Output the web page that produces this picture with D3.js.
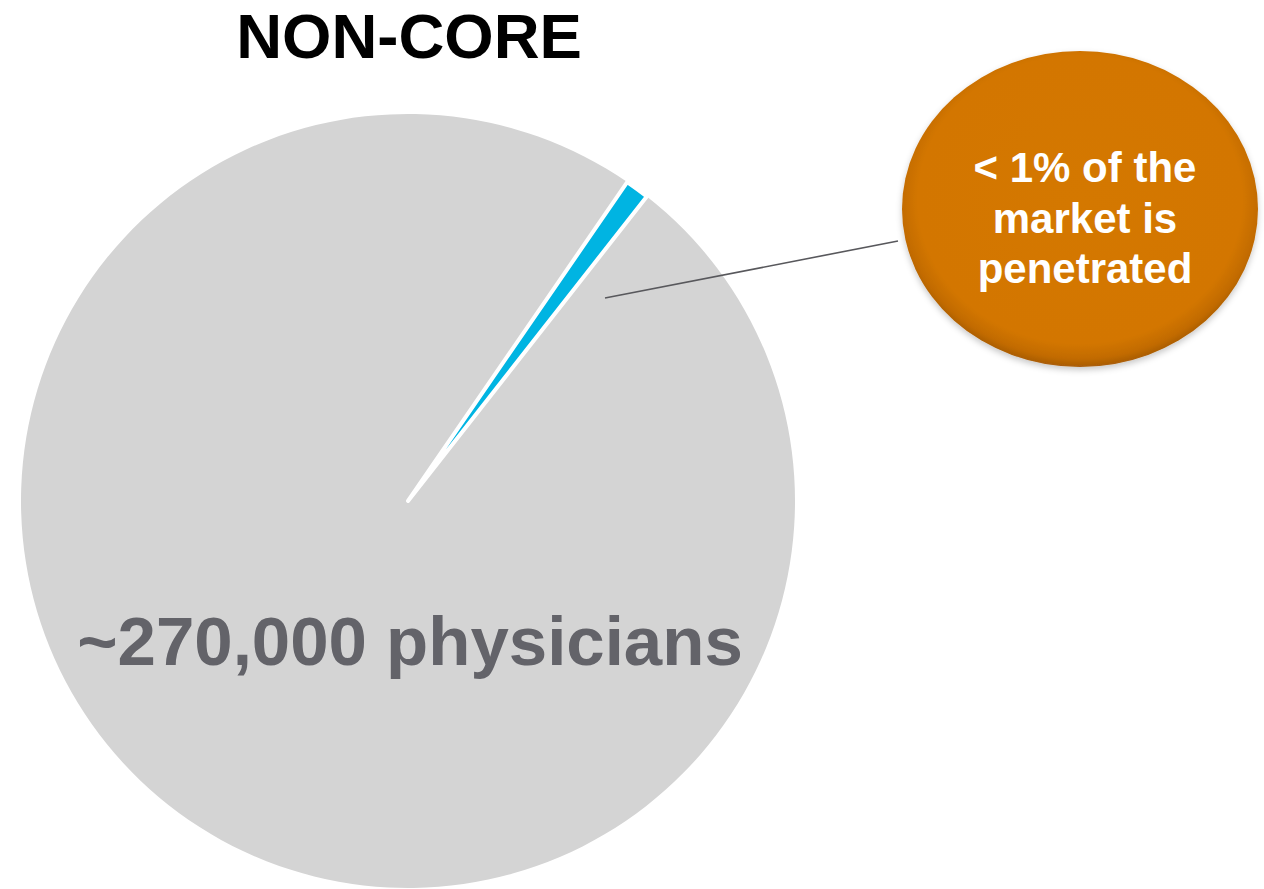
<!DOCTYPE html>
<html>
<head>
<meta charset="utf-8">
<script src="https://cdn.jsdelivr.net/npm/d3@7"></script>
<style>
  html, body { margin: 0; padding: 0; background: #ffffff; }
  svg { display: block; }
</style>
</head>
<body>
<svg id="chart" width="1264" height="889"></svg>
<script>
// Market segments (percent of non-core physicians)
const segments = ["Penetrated", "Not penetrated"];
const shares = [1, 99];
const segmentColors = ["#00B4E2", "#D4D4D4"];

const title = "NON-CORE";
const totalLabel = "~270,000 physicians";
const calloutLines = ["< 1% of the", "market is", "penetrated"];

const svg = d3.select("#chart");

const cx = 408, cy = 501, R = 387;
const startDeg = 34.5;

const defs = svg.append("defs");
const grad = defs.append("radialGradient")
  .attr("id", "calloutFill")
  .attr("cx", "50%").attr("cy", "47%").attr("r", "53%");
grad.append("stop").attr("offset", "0%").attr("stop-color", "#D47800");
grad.append("stop").attr("offset", "86%").attr("stop-color", "#D37600");
grad.append("stop").attr("offset", "95%").attr("stop-color", "#C26B00");
grad.append("stop").attr("offset", "100%").attr("stop-color", "#A85C08");

const shadow = defs.append("filter").attr("id", "calloutShadow")
  .attr("x", "-10%").attr("y", "-10%").attr("width", "120%").attr("height", "125%");
shadow.append("feDropShadow")
  .attr("dx", 0).attr("dy", 3).attr("stdDeviation", 3)
  .attr("flood-color", "#000").attr("flood-opacity", 0.22);

// Title
svg.append("text")
  .attr("x", cx + 1).attr("y", 58)
  .attr("text-anchor", "middle")
  .attr("font-family", "Liberation Sans, Arial, sans-serif")
  .attr("font-weight", "bold")
  .attr("font-size", 63.5)
  .attr("fill", "#000")
  .text(title);

// Pie
const pie = d3.pie()
  .sort(null)
  .value(d => d)
  .startAngle(startDeg * Math.PI / 180)
  .endAngle(startDeg * Math.PI / 180 + 2 * Math.PI);

const arc = d3.arc().innerRadius(0).outerRadius(R);

const g = svg.append("g").attr("transform", `translate(${cx},${cy})`);
const arcs = pie(shares);

// Gray slice first, blue slice on top with white separators
g.selectAll("path.slice")
  .data([arcs[1], arcs[0]])
  .join("path")
  .attr("class", "slice")
  .attr("d", arc)
  .attr("fill", d => segmentColors[d.index])
  .attr("stroke", d => d.index === 0 ? "#ffffff" : "none")
  .attr("stroke-width", 4)
  .attr("stroke-linejoin", "round");

// Total label
svg.append("text")
  .attr("x", cx + 2).attr("y", 665)
  .attr("text-anchor", "middle")
  .attr("font-family", "Liberation Sans, Arial, sans-serif")
  .attr("font-weight", "bold")
  .attr("font-size", 69)
  .attr("fill", "#636369")
  .text(totalLabel);

// Leader line
svg.append("line")
  .attr("x1", 605).attr("y1", 298)
  .attr("x2", 898).attr("y2", 241)
  .attr("stroke", "#58585c")
  .attr("stroke-width", 1.6);

// Callout bubble
const bx = 1080, by = 209;
svg.append("ellipse")
  .attr("cx", bx).attr("cy", by)
  .attr("rx", 178).attr("ry", 158)
  .attr("fill", "url(#calloutFill)")
  .attr("filter", "url(#calloutShadow)");

svg.append("g")
  .selectAll("text")
  .data(calloutLines)
  .join("text")
  .attr("x", 1085)
  .attr("y", (d, i) => 182 + i * 50.5)
  .attr("text-anchor", "middle")
  .attr("font-family", "Liberation Sans, Arial, sans-serif")
  .attr("font-weight", "bold")
  .attr("font-size", 42)
  .attr("fill", "#ffffff")
  .text(d => d);
</script>
</body>
</html>
